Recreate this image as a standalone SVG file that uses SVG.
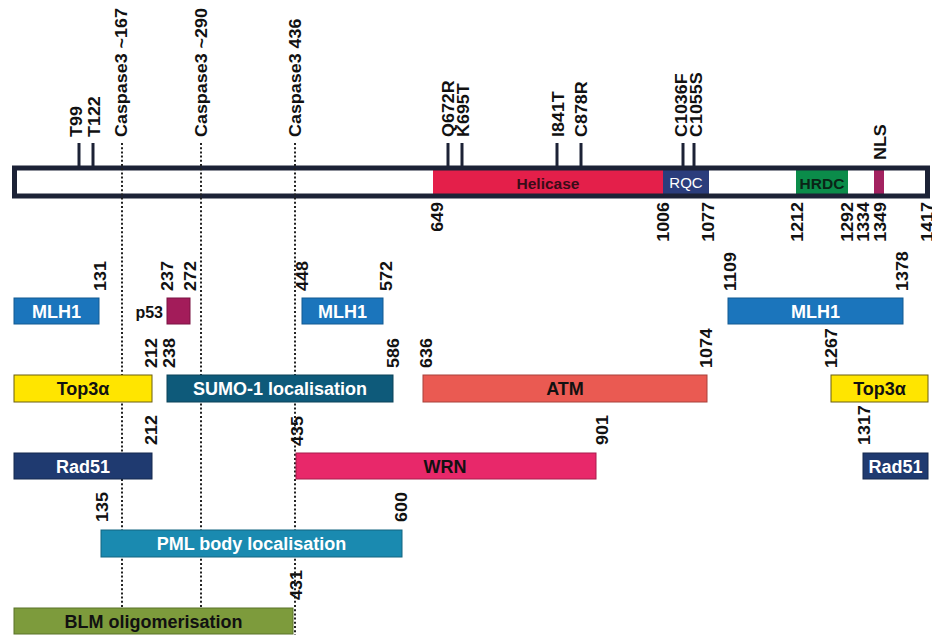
<svg xmlns="http://www.w3.org/2000/svg" width="932" height="635" viewBox="0 0 932 635">
<style>
text{font-family:"Liberation Sans",Arial,sans-serif}
.lab{font-size:16px;font-weight:bold;fill:#111}
.bt{font-size:18px;font-weight:bold;text-anchor:middle}
.w{fill:#fff}
.k{fill:#111}
.dot{stroke:#222;stroke-width:2;stroke-dasharray:2 2.2;fill:none}
.tick{stroke:#1c2236;stroke-width:3}
.box{stroke-width:1}
</style>
<rect width="932" height="635" fill="#fff"/>

<g id="protein">
  <rect x="14.5" y="168" width="913" height="28" fill="#fff"/>
  <rect x="433" y="170" width="230" height="24" fill="#e41f4a"/>
  <rect x="663" y="170" width="46" height="24" fill="#2b3d7c"/>
  <rect x="796" y="170" width="52" height="24" fill="#0b8c4a"/>
  <rect x="874" y="170" width="10" height="24" fill="#a32260"/>
  <rect x="14.5" y="168" width="913" height="28" fill="none" stroke="#1c2236" stroke-width="5"/>
  <text x="548" y="188.5" font-size="15.5" font-weight="bold" text-anchor="middle" fill="#3a0c18">Helicase</text>
  <text x="686" y="188" font-size="15" text-anchor="middle" fill="#fff">RQC</text>
  <text x="822" y="188.5" font-size="15.5" font-weight="bold" text-anchor="middle" fill="#0a2416">HRDC</text>
</g>

<g id="connectors">
  <line class="dot" x1="122" y1="143" x2="122" y2="608"/>
  <line class="dot" x1="201" y1="143" x2="201" y2="608"/>
  <line class="dot" x1="295" y1="143" x2="295" y2="635"/>
</g>

<g id="ticks">
  <line class="tick" x1="79" y1="143" x2="79" y2="166"/>
  <line class="tick" x1="93" y1="143" x2="93" y2="166"/>
  <line class="tick" x1="448" y1="143" x2="448" y2="166"/>
  <line class="tick" x1="462" y1="143" x2="462" y2="166"/>
  <line class="tick" x1="557" y1="143" x2="557" y2="166"/>
  <line class="tick" x1="581" y1="143" x2="581" y2="166"/>
  <line class="tick" x1="683" y1="143" x2="683" y2="166"/>
  <line class="tick" x1="694" y1="143" x2="694" y2="166"/>
</g>

<g id="top-labels" class="lab">
  <text transform="translate(82,137) rotate(-90) scale(1.12,1)">T99</text>
  <text transform="translate(99.5,137) rotate(-90) scale(1.12,1)">T122</text>
  <text transform="translate(127,137) rotate(-90) scale(1.12,1)">Caspase3 ~167</text>
  <text transform="translate(207,137) rotate(-90) scale(1.12,1)">Caspase3 ~290</text>
  <text transform="translate(300.5,137) rotate(-90) scale(1.12,1)">Caspase3 436</text>
  <text transform="translate(454,137) rotate(-90) scale(1.12,1)">Q672R</text>
  <text transform="translate(469,137) rotate(-90) scale(1.12,1)">K695T</text>
  <text transform="translate(563.5,137) rotate(-90) scale(1.12,1)">I841T</text>
  <text transform="translate(587,137) rotate(-90) scale(1.12,1)">C878R</text>
  <text transform="translate(687,137) rotate(-90) scale(1.12,1)">C1036F</text>
  <text transform="translate(702,137) rotate(-90) scale(1.12,1)">C1055S</text>
  <text transform="translate(886,160) rotate(-90) scale(1.12,1)">NLS</text>
</g>

<g id="bar-numbers" class="lab" text-anchor="end">
  <text transform="translate(443,202) rotate(-90) scale(1.12,1)">649</text>
  <text transform="translate(669,202) rotate(-90) scale(1.12,1)">1006</text>
  <text transform="translate(714,202) rotate(-90) scale(1.12,1)">1077</text>
  <text transform="translate(803,202) rotate(-90) scale(1.12,1)">1212</text>
  <text transform="translate(853,202) rotate(-90) scale(1.12,1)">1292</text>
  <text transform="translate(869,202) rotate(-90) scale(1.12,1)">1334</text>
  <text transform="translate(886,202) rotate(-90) scale(1.12,1)">1349</text>
  <text transform="translate(933,202) rotate(-90) scale(1.12,1)">1417</text>
</g>

<g id="mlh1-a">
  <rect class="box" x="14" y="298" width="85" height="26" fill="#1b75bc" stroke="#135a92"/>
  <text class="bt w" x="56.5" y="317.5">MLH1</text>
  <text class="lab" transform="translate(106,291) rotate(-90) scale(1.12,1)">131</text>
</g>
<g id="p53">
  <rect class="box" x="167" y="298" width="23" height="26" fill="#a31c5a" stroke="#7a1242"/>
  <text class="lab" x="163" y="318" font-size="18" text-anchor="end">p53</text>
  <text class="lab" transform="translate(173,291) rotate(-90) scale(1.12,1)">237</text>
  <text class="lab" transform="translate(196,291) rotate(-90) scale(1.12,1)">272</text>
</g>
<g id="mlh1-b">
  <rect class="box" x="302" y="298" width="81" height="26" fill="#1b75bc" stroke="#135a92"/>
  <text class="bt w" x="342.5" y="317.5">MLH1</text>
  <text class="lab" transform="translate(308,291) rotate(-90) scale(1.12,1)">448</text>
  <text class="lab" transform="translate(392,291) rotate(-90) scale(1.12,1)">572</text>
</g>
<g id="mlh1-c">
  <rect class="box" x="728" y="298" width="175" height="26" fill="#1b75bc" stroke="#135a92"/>
  <text class="bt w" x="815.5" y="317.5">MLH1</text>
  <text class="lab" transform="translate(736,291) rotate(-90) scale(1.12,1)">1109</text>
  <text class="lab" transform="translate(908,291) rotate(-90) scale(1.12,1)">1378</text>
</g>

<g id="top3a-a">
  <rect class="box" x="14" y="375" width="138" height="27" fill="#ffe500" stroke="#6b5e10"/>
  <text class="bt k" x="83" y="395">Top3α</text>
  <text class="lab" transform="translate(157,368) rotate(-90) scale(1.12,1)">212</text>
</g>
<g id="sumo1">
  <rect class="box" x="167" y="375" width="226" height="27" fill="#0e5a7a" stroke="#0a4258"/>
  <text class="bt w" x="280" y="395">SUMO-1 localisation</text>
  <text class="lab" transform="translate(175,368) rotate(-90) scale(1.12,1)">238</text>
  <text class="lab" transform="translate(399,368) rotate(-90) scale(1.12,1)">586</text>
</g>
<g id="atm">
  <rect class="box" x="423" y="375" width="284" height="27" fill="#ea5a52" stroke="#a8403a"/>
  <text class="bt k" x="565" y="395">ATM</text>
  <text class="lab" transform="translate(432,368) rotate(-90) scale(1.12,1)">636</text>
  <text class="lab" transform="translate(712,368) rotate(-90) scale(1.12,1)">1074</text>
</g>
<g id="top3a-b">
  <rect class="box" x="831" y="375" width="97" height="27" fill="#ffe500" stroke="#6b5e10"/>
  <text class="bt k" x="879.5" y="395">Top3α</text>
  <text class="lab" transform="translate(837,368) rotate(-90) scale(1.12,1)">1267</text>
</g>

<g id="rad51-a">
  <rect class="box" x="14" y="453" width="138" height="26" fill="#1f3a70" stroke="#15284e"/>
  <text class="bt w" x="83" y="472.5">Rad51</text>
  <text class="lab" transform="translate(157,445) rotate(-90) scale(1.12,1)">212</text>
</g>
<g id="wrn">
  <rect class="box" x="296" y="453" width="300" height="26" fill="#e8286a" stroke="#a81c4c"/>
  <text class="bt k" x="445" y="472.5">WRN</text>
  <text class="lab" transform="translate(303,446) rotate(-90) scale(1.12,1)">435</text>
  <text class="lab" transform="translate(608,445) rotate(-90) scale(1.12,1)">901</text>
</g>
<g id="rad51-b">
  <rect class="box" x="863" y="453" width="65" height="26" fill="#1f3a70" stroke="#15284e"/>
  <text class="bt w" x="895.5" y="472.5">Rad51</text>
  <text class="lab" transform="translate(870,445) rotate(-90) scale(1.12,1)">1317</text>
</g>

<g id="pml">
  <rect class="box" x="101" y="530" width="301" height="27" fill="#1a8ab0" stroke="#136480"/>
  <text class="bt w" x="251.5" y="550">PML body localisation</text>
  <text class="lab" transform="translate(108,522) rotate(-90) scale(1.12,1)">135</text>
  <text class="lab" transform="translate(407,522) rotate(-90) scale(1.12,1)">600</text>
</g>

<g id="blm">
  <rect class="box" x="14" y="608" width="279" height="26" fill="#7d9b3c" stroke="#5a7228"/>
  <text class="bt k" x="153.5" y="627.5">BLM oligomerisation</text>
  <text class="lab" transform="translate(302,600) rotate(-90) scale(1.12,1)">431</text>
</g>
</svg>
